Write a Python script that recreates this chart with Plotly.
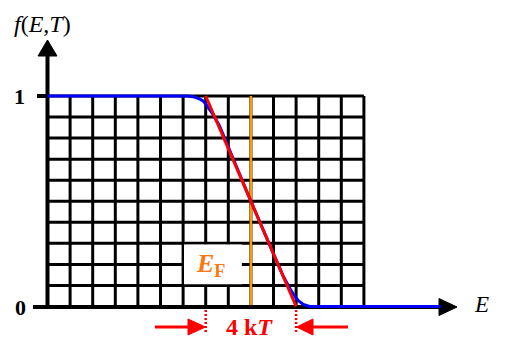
import plotly.graph_objects as go

# ---- data ----
x_ticks = list(range(0, 15))                 # grid columns (units of kT)
y_ticks = [round(0.1 * i, 1) for i in range(0, 11)]
E_F = 9
kT = 1
red_E = [7, 11]
red_f = [1, 0]
blue_E = [0, 6.2, 6.5, 6.75, 6.9, 7.04, 7.34, 7.6, 7.8, 9.0, 10.2, 10.45, 10.7, 10.9, 11.1, 11.32, 11.6, 17.4]
blue_f = [1, 1, 0.995, 0.985, 0.975, 0.957, 0.91, 0.86, 0.81, 0.5, 0.2, 0.14, 0.09, 0.055, 0.028, 0.01, 0, 0]
y_labels = ["0", "1"]

# ---- pixel <-> data helpers for layout ----
X0PX, UX = 47.5, 22.6
Y0PX, UY = 306.5, 210.5
def px(p):
    return (p - X0PX) / UX
def py(p):
    return (Y0PX - p) / UY

W, H = 516, 347
FONT = "Liberation Serif"
ORANGE_LINE = "#FF9900"
ORANGE_TXT = "#FF7711"
RED = "#FF0000"
BLUE = "#0000FF"

shapes = []
xmax = x_ticks[-1]
# grid
for yv in y_ticks[1:]:
    shapes.append(dict(type="line", layer="below", x0=0, x1=xmax, y0=yv, y1=yv,
                       line=dict(color="black", width=3)))
for xv in x_ticks[1:]:
    shapes.append(dict(type="line", layer="below", x0=xv, x1=xv, y0=0, y1=1,
                       line=dict(color="black", width=3)))
# white box behind E_F label
shapes.append(dict(type="rect", layer="below", x0=6.04, x1=8.6, y0=0.106, y1=0.294,
                   fillcolor="white", line=dict(width=0)))
# Fermi level line
shapes.append(dict(type="line", layer="below", x0=E_F, x1=E_F, y0=0, y1=1,
                   line=dict(color=ORANGE_LINE, width=2.5)))
# axes
shapes.append(dict(type="line", layer="below", x0=px(47.5), x1=px(47.5), y0=py(309), y1=py(54),
                   line=dict(color="black", width=4)))
shapes.append(dict(type="path", layer="below",
                   path=f"M {px(38)},{py(56)} L {px(47.5)},{py(40)} L {px(57)},{py(56)} Z",
                   fillcolor="black", line=dict(color="black", width=1)))
shapes.append(dict(type="line", layer="below", x0=px(45.5), x1=px(442), y0=py(307), y1=py(307),
                   line=dict(color="black", width=4)))
shapes.append(dict(type="path", layer="below",
                   path=f"M {px(439)},{py(298.5)} L {px(457)},{py(307)} L {px(439)},{py(315.5)} Z",
                   fillcolor="black", line=dict(color="black", width=1)))
# y ticks
shapes.append(dict(type="line", layer="below", x0=px(37), x1=px(47), y0=1, y1=1,
                   line=dict(color="black", width=4)))
shapes.append(dict(type="line", layer="below", x0=px(33), x1=px(47), y0=py(307), y1=py(307),
                   line=dict(color="black", width=4)))
# 4kT markers
for xv in (E_F - 2 * kT, E_F + 2 * kT):
    shapes.append(dict(type="line", layer="above", x0=xv, x1=xv, y0=py(310), y1=py(333),
                       line=dict(color=RED, width=2.5, dash="2px,2px")))
ya = py(327)
shapes.append(dict(type="line", layer="above", x0=px(155), x1=px(190), y0=ya, y1=ya,
                   line=dict(color=RED, width=3)))
shapes.append(dict(type="path", layer="above",
                   path=f"M {px(188)},{py(319)} L {px(205.5)},{ya} L {px(188)},{py(335)} Z",
                   fillcolor=RED, line=dict(color=RED, width=1)))
shapes.append(dict(type="line", layer="above", x0=px(311), x1=px(348), y0=ya, y1=ya,
                   line=dict(color=RED, width=3)))
shapes.append(dict(type="path", layer="above",
                   path=f"M {px(313)},{py(319)} L {px(296.5)},{ya} L {px(313)},{py(335)} Z",
                   fillcolor=RED, line=dict(color=RED, width=1)))

fig = go.Figure()
fig.add_trace(go.Scatter(x=blue_E, y=blue_f, mode="lines", line=dict(color=BLUE, width=3),
                         hoverinfo="skip", showlegend=False))
fig.add_trace(go.Scatter(x=red_E, y=red_f, mode="lines", line=dict(color=RED, width=3),
                         hoverinfo="skip", showlegend=False))

ann = []
def text(x, y, s, size, color="black"):
    ann.append(dict(x=x, y=y, xref="x", yref="y", text=s, showarrow=False,
                    xanchor="center", yanchor="middle",
                    font=dict(family=FONT, size=size, color=color)))

text(px(19.5), py(96.5), f"<b>{y_labels[1]}</b>", 22)
text(px(20.5), py(307), f"<b>{y_labels[0]}</b>", 22)
text(px(42.5), py(24), "<i>f</i>(<i>E</i>,<i>T</i>)", 24)
text(px(481.5), py(304), "<i>E</i>", 23)
text(px(210), py(265), "<b><i>E</i><sub>F</sub></b>", 26, ORANGE_TXT)
text(px(249.5), py(327), "<b>4 k<i>T</i></b>", 24, RED)

fig.update_layout(
    width=W, height=H, autosize=False,
    margin=dict(l=0, r=0, t=0, b=0, pad=0),
    paper_bgcolor="white", plot_bgcolor="white",
    shapes=shapes, annotations=ann,
    xaxis=dict(range=[px(0), px(W)], visible=False, showgrid=False, zeroline=False, fixedrange=True),
    yaxis=dict(range=[py(H), py(0)], visible=False, showgrid=False, zeroline=False, fixedrange=True),
)
fig.write_html("out.html", config={"displayModeBar": False})
